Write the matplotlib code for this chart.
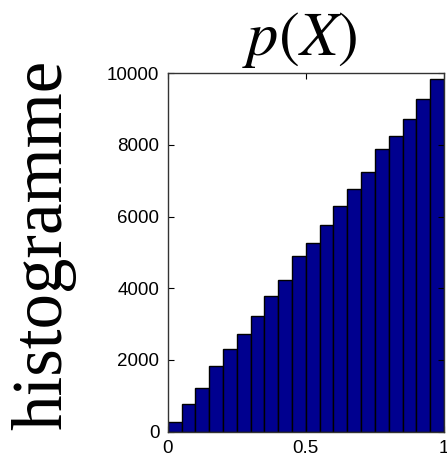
import numpy as np
import matplotlib
matplotlib.use("Agg")
import matplotlib.pyplot as plt

# histogram counts (20 bins on [0, 1])
bin_edges = np.linspace(0, 1, 21)
counts = [270, 764, 1219, 1825, 2308, 2726, 3219, 3777, 4233, 4902,
          5273, 5759, 6297, 6771, 7246, 7888, 8259, 8717, 9283, 9841]
x_ticks = [0, 0.5, 1]
x_tick_labels = ["0", "0.5", "1"]
y_ticks = [0, 2000, 4000, 6000, 8000, 10000]

plt.rcParams["font.family"] = ["Liberation Sans", "DejaVu Sans"]
plt.rcParams["mathtext.fontset"] = "stix"

fig = plt.figure(figsize=(4.47, 4.59), dpi=100)
ax = fig.add_axes([0.3752, 0.0595, 0.618, 0.781])

ax.bar(bin_edges[:-1], counts, width=np.diff(bin_edges), align="edge",
       color="#00008F", edgecolor="black", linewidth=1.0)

ax.set_xlim(0, 1)
ax.set_ylim(0, 10000)
ax.set_xticks(x_ticks)
ax.set_xticklabels(x_tick_labels)
ax.set_yticks(y_ticks)
ax.tick_params(direction="in", top=True, right=True, labelsize=13.5,
               length=4, width=0.8, pad=6)
for s in ax.spines.values():
    s.set_linewidth(1.0)
    s.set_color("#333333")

ax.set_title("$p(X)$", fontsize=45, pad=13, x=0.478)
fig.text(0.097, 0.466, "histogramme", rotation=90, ha="center", va="center",
         fontsize=51, family=["Liberation Serif", "DejaVu Serif"])

fig.savefig("out.png", dpi=100)
